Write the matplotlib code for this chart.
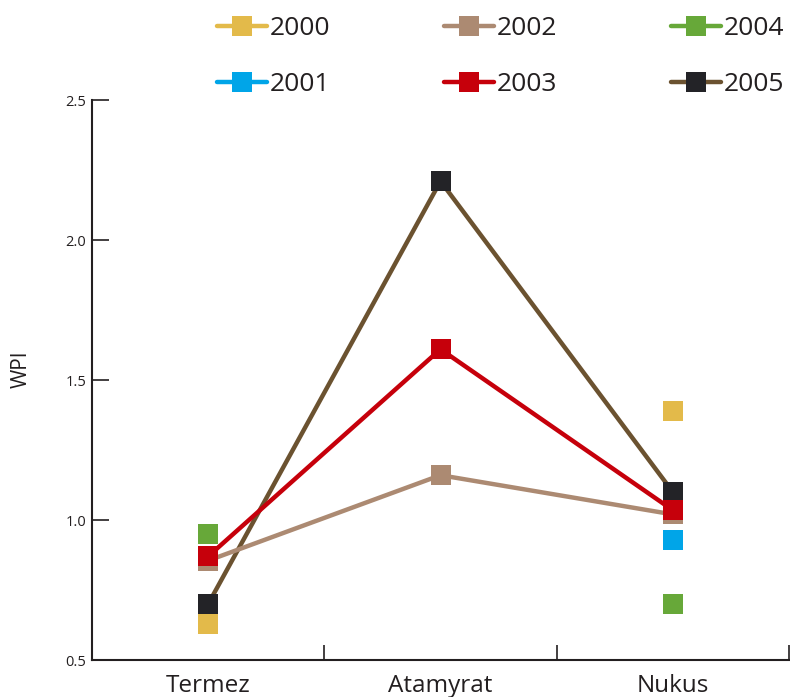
import matplotlib
matplotlib.use("Agg")
import matplotlib.pyplot as plt
import numpy as np

plt.rcParams['font.family'] = ['Open Sans', 'DejaVu Sans']

sites = ["Termez", "Atamyrat", "Nukus"]
years = ["2000", "2001", "2002", "2003", "2004", "2005"]
nan = np.nan
wpi_2000 = [0.63, nan, 1.39]
wpi_2001 = [0.665, nan, 0.93]
wpi_2002 = [0.855, 1.16, 1.02]
wpi_2003 = [0.87, 1.61, 1.035]
wpi_2004 = [0.95, nan, 0.70]
wpi_2005 = [0.70, 2.21, 1.10]

series = {"2000": wpi_2000, "2001": wpi_2001, "2002": wpi_2002,
          "2003": wpi_2003, "2004": wpi_2004, "2005": wpi_2005}
line_c = {"2000": "#E3BA4A", "2001": "#00A5E8", "2002": "#AC8A72",
          "2003": "#C6000B", "2004": "#67A839", "2005": "#6B5230"}
mark_c = dict(line_c); mark_c["2005"] = "#232327"
zord = {"2001": 2, "2005": 3, "2000": 4, "2002": 5, "2003": 6, "2004": 7}

fig = plt.figure(figsize=(7.9, 6.97), dpi=100)
ax = fig.add_axes([92/790, 1-660/697, 697/790, 560/697])
x = np.arange(len(sites))
handles = {}
for y in years:
    h, = ax.plot(x, series[y], color=line_c[y], lw=3.2, marker="s", ms=14.5,
                 mfc=mark_c[y], mec=mark_c[y], mew=0, zorder=zord[y],
                 solid_capstyle="round", label=y, clip_on=False)
    handles[y] = h

ax.set_xlim(-0.5, 2.5)
ax.set_ylim(0.5, 2.5)
ax.set_yticks([0.5, 1.0, 1.5, 2.0, 2.5])
ax.set_yticklabels(["0.5", "1.0", "1.5", "2.0", "2.5"])
ax.set_xticks(x)
ax.set_xticklabels(sites)
ax.set_xticks([0.5, 1.5, 2.5], minor=True)
ax.tick_params(axis="x", which="major", length=0, pad=10, labelsize=17.5, labelcolor="#231f20")
ax.tick_params(axis="x", which="minor", direction="in", length=11, width=1.2, color="#231f20")
ax.tick_params(axis="y", direction="in", length=12, width=1.2, pad=4, labelsize=10.5,
               labelcolor="#231f20", color="#231f20")
for s in ("top", "right"):
    ax.spines[s].set_visible(False)
for s in ("left", "bottom"):
    ax.spines[s].set_linewidth(1.5)
    ax.spines[s].set_color("#231f20")
ax.set_ylabel("WPI", fontsize=15, color="#231f20")
ax.yaxis.set_label_coords(-0.086, 0.52)

fig.legend([handles[y] for y in years], years, ncol=3, loc="upper left",
           bbox_to_anchor=(217/790, 1-16/697), frameon=False, fontsize=19,
           handlelength=1.9, handletextpad=0.1, columnspacing=4.3,
           labelspacing=1.18, borderpad=0, borderaxespad=0, labelcolor="#231f20")

fig.savefig("out.png", dpi=100)
